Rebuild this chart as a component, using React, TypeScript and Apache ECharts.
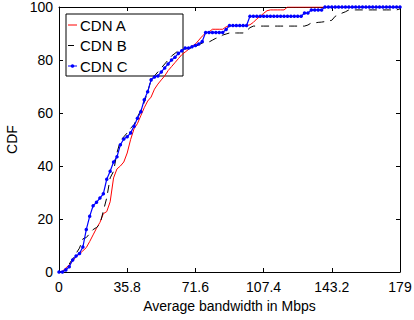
import React, { useEffect, useRef } from "react";
import * as echarts from "echarts";

const bandwidth = [
  0, 1.79, 3.58, 5.37, 7.16, 8.95, 10.74, 12.53, 14.32, 16.11,
  17.9, 19.69, 21.48, 23.27, 25.06, 26.85, 28.64, 30.43, 32.22, 34.01,
  35.8, 37.59, 39.38, 41.17, 42.96, 44.75, 46.54, 48.33, 50.12, 51.91,
  53.7, 55.49, 57.28, 59.07, 60.86, 62.65, 64.44, 66.23, 68.02, 69.81,
  71.6, 73.39, 75.18, 76.97, 78.76, 80.55, 82.34, 84.13, 85.92, 87.71,
  89.5, 91.29, 93.08, 94.87, 96.66, 98.45, 100.24, 102.03, 103.82, 105.61,
  107.4, 109.19, 110.98, 112.77, 114.56, 116.35, 118.14, 119.93, 121.72, 123.51,
  125.3, 127.09, 128.88, 130.67, 132.46, 134.25, 136.04, 137.83, 139.62, 141.41,
  143.2, 144.99, 146.78, 148.57, 150.36, 152.15, 153.94, 155.73, 157.52, 159.31,
  161.1, 162.89, 164.68, 166.47, 168.26, 170.05, 171.84, 173.63, 175.42, 177.21,
  179,
];

const cdnA = [
  0, 0.3, 1.5, 2.7, 4, 5.8, 6.8, 8, 9.2, 11.5,
  14, 16.5, 18.7, 22, 22.8, 26.5, 35.5, 38.9, 40, 41.5,
  44.9, 50, 54, 56, 59, 62, 64.5, 66, 69, 70.9,
  72.5, 74, 76, 77.5, 79, 80.5, 82, 83, 84, 85.2,
  86, 87.5, 89, 90.2, 90.6, 91.6, 91.6, 91.6, 91.6, 92.5,
  93, 93, 93, 93, 93, 93, 93.3, 94.2, 95.5, 96.5,
  97.6, 98.6, 98.9, 98.9, 98.9, 98.9, 98.9, 100, 100, 100,
  100, 100, 100, 100, 100, 100, 100, 100, 100, 100,
  100, 100, 100, 100, 100, 100, 100, 100, 100, 100,
  100, 100, 100, 100, 100, 100, 100, 100, 100, 100,
  100,
];

const cdnB = [
  0, 0, 1, 3, 5, 7, 9, 12.5, 13, 14.5,
  16, 16.8, 18, 23, 28, 35.5, 38, 45, 49.5, 51,
  52.5, 54.3, 55.5, 58.5, 61, 64, 68, 72.5, 74, 75.5,
  77, 78.5, 80, 81.5, 82.5, 83.5, 84, 84.2, 84.3, 84.5,
  85, 85.8, 86.4, 86.8, 86.8, 87.5, 88.2, 88.5, 89.4, 89.8,
  90.2, 90.2, 90.2, 90.2, 90.2, 91, 92.2, 92.8, 92.8, 92.8,
  92.8, 92.8, 92.8, 92.8, 92.8, 92.8, 92.8, 92.8, 92.8, 92.8,
  92.8, 92.8, 92.8, 93.2, 94, 94, 94.2, 94.3, 94.5, 94.7,
  95, 96.5, 97, 97.7, 98.2, 98.9, 98.9, 98.9, 98.9, 98.9,
  98.9, 98.9, 98.9, 98.9, 98.9, 98.9, 98.9, 98.9, 98.9, 98.9,
  99.3,
];

const cdnC = [
  0, 0, 0.8, 2, 4.5, 6, 7, 9.4, 16, 21,
  25, 26.3, 27.9, 29.5, 35, 38, 41.5, 43.5, 48, 50.2,
  51, 52.5, 55, 58, 60.5, 65, 68, 72.5, 73.6, 74,
  75.5, 77, 78.5, 80, 81, 82.5, 83.5, 84.5, 84.5, 85,
  85.5, 86, 87, 90.4, 90.4, 90.4, 90.4, 90.4, 90.4, 91.5,
  93, 93, 93, 93, 93, 93, 96.5, 96.5, 96.5, 96.5,
  96.5, 96.5, 96.5, 96.5, 96.5, 96.5, 96.5, 96.5, 96.5, 96.5,
  96.5, 96.5, 97.7, 97.7, 98.9, 98.9, 98.9, 98.9, 100, 100,
  100, 100, 100, 100, 100, 100, 100, 100, 100, 100,
  100, 100, 100, 100, 100, 100, 100, 100, 100, 100,
  100,
];

const seriesNames = ["CDN A", "CDN B", "CDN C"];
const seriesColors = ["#ff0000", "#000000", "#0000ff"];
const xMax = 179;
const xInterval = 35.8;
const yMax = 100;
const yInterval = 20;

const FONT = "'Liberation Sans', Arial, Helvetica, sans-serif";

export default function App() {
  const ref = useRef<HTMLDivElement>(null);

  useEffect(() => {
    if (!ref.current) return;
    const chart = echarts.init(ref.current, undefined, { renderer: "svg" });
    const pairs = (ys: number[]) => bandwidth.map((x, i) => [x, ys[i]]);
    const fmt = (v: number) => String(Math.round(v * 10) / 10);

    const baseX = {
      type: "value" as const,
      min: 0,
      max: xMax,
      interval: xInterval,
      splitLine: { show: false },
      axisLine: { show: true, onZero: false, lineStyle: { color: "#000", width: 1 } },
      axisTick: { show: true, inside: true, length: 4, lineStyle: { color: "#000" } },
    };
    const baseY = {
      type: "value" as const,
      min: 0,
      max: yMax,
      interval: yInterval,
      splitLine: { show: false },
      axisLine: { show: true, onZero: false, lineStyle: { color: "#000", width: 1 } },
      axisTick: { show: true, inside: true, length: 4, lineStyle: { color: "#000" } },
    };

    // legend drawn as graphic (box, sample lines, real text)
    const legendLeft = 66;
    const legendTop = 14;
    const legendW = 117;
    const legendH = 62;
    const rowY = [25, 45.5, 66];
    const legendChildren: any[] = [
      {
        type: "rect",
        shape: { x: legendLeft, y: legendTop, width: legendW, height: legendH },
        style: { fill: "#fff", stroke: "#000", lineWidth: 1 },
      },
    ];
    seriesNames.forEach((name, i) => {
      const y = rowY[i];
      legendChildren.push({
        type: "line",
        shape: { x1: 68, y1: y, x2: 77, y2: y },
        style: {
          stroke: seriesColors[i],
          lineWidth: 1,
          lineDash: i === 1 ? [6, 3] : null,
        },
      });
      if (i === 2) {
        legendChildren.push({
          type: "circle",
          shape: { cx: 72.5, cy: y, r: 1.8 },
          style: { fill: seriesColors[i] },
        });
      }
      legendChildren.push({
        type: "text",
        x: 80,
        y,
        style: {
          text: name,
          fill: "#000",
          font: `15px ${FONT}`,
          textVerticalAlign: "middle",
          verticalAlign: "middle",
        },
      });
    });

    chart.setOption({
      animation: false,
      backgroundColor: "#fff",
      textStyle: { fontFamily: FONT },
      grid: {
        left: 59,
        right: 14,
        top: 7,
        bottom: 48,
        containLabel: false,
        outerBoundsMode: "none",
      },
      graphic: [{ type: "group", z: 100, children: legendChildren }],
      xAxis: [
        {
          ...baseX,
          position: "bottom",
          name: "Average bandwidth in Mbps",
          nameLocation: "middle",
          nameGap: 21,
          nameTextStyle: { fontFamily: FONT, fontSize: 14, color: "#000" },
          axisLabel: { show: true, margin: 8, fontFamily: FONT, fontSize: 14, color: "#000", formatter: fmt },
        },
        { ...baseX, position: "top", axisLabel: { show: false } },
      ],
      yAxis: [
        {
          ...baseY,
          position: "left",
          name: "CDF",
          nameLocation: "middle",
          nameGap: 40,
          nameTextStyle: { fontFamily: FONT, fontSize: 14, color: "#000" },
          axisLabel: { show: true, margin: 6, fontFamily: FONT, fontSize: 14, color: "#000" },
        },
        { ...baseY, position: "right", axisLabel: { show: false } },
      ],
      series: [
        {
          name: seriesNames[0],
          type: "line",
          data: pairs(cdnA),
          symbol: "none",
          color: seriesColors[0],
          lineStyle: { color: seriesColors[0], width: 1 },
          z: 2,
        },
        {
          name: seriesNames[1],
          type: "line",
          data: pairs(cdnB),
          symbol: "none",
          color: seriesColors[1],
          lineStyle: { color: seriesColors[1], width: 1, type: [8, 6] },
          z: 3,
        },
        {
          name: seriesNames[2],
          type: "line",
          data: pairs(cdnC),
          symbol: "circle",
          symbolSize: 3.5,
          showSymbol: true,
          color: seriesColors[2],
          itemStyle: { color: seriesColors[2] },
          lineStyle: { color: seriesColors[2], width: 1.2 },
          z: 4,
        },
      ],
    });

    return () => chart.dispose();
  }, []);

  return <div ref={ref} style={{ width: 414, height: 320, position: "absolute", left: 0, top: 0 }} />;
}
